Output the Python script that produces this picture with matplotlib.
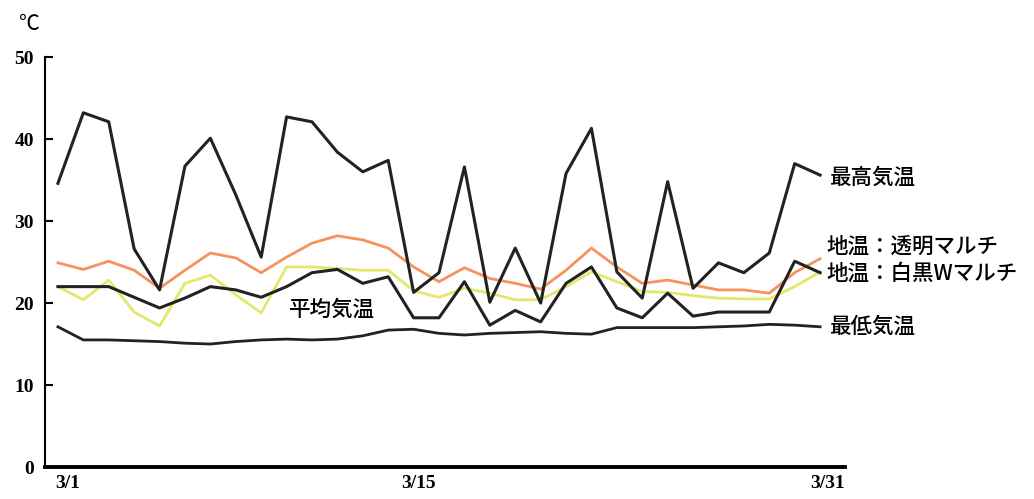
import matplotlib.pyplot as plt
import numpy as np

plt.rcParams['font.family'] = ['Liberation Serif', 'Noto Sans CJK JP', 'DejaVu Sans']

days = np.arange(1, 32)

# 最高気温
t_max = [34.6, 43.2, 42.1, 26.6, 21.6, 36.7, 40.1, 33.2, 25.6, 42.7,
         42.1, 38.4, 36.0, 37.4, 21.3, 23.7, 36.6, 20.1, 26.7, 20.0,
         35.8, 41.3, 23.8, 20.6, 34.8, 21.8, 24.9, 23.7, 26.1, 37.0, 35.6]
# 地温：透明マルチ
soil_clear = [24.9, 24.1, 25.1, 24.0, 21.8, 24.0, 26.1, 25.5, 23.7, 25.6,
              27.3, 28.2, 27.7, 26.7, 24.4, 22.6, 24.3, 23.0, 22.4, 21.7,
              24.0, 26.7, 24.4, 22.4, 22.8, 22.2, 21.6, 21.6, 21.2, 23.7, 25.4]
# 地温：白黒Wマルチ
soil_bw = [22.0, 20.4, 22.8, 18.9, 17.2, 22.4, 23.4, 21.0, 18.8, 24.4,
           24.4, 24.2, 24.0, 24.0, 21.5, 20.7, 21.8, 21.2, 20.4, 20.4,
           22.0, 23.8, 22.6, 21.4, 21.3, 20.9, 20.6, 20.5, 20.5, 22.0, 23.8]
# 平均気温
t_mean = [22.0, 22.0, 22.0, 20.7, 19.4, 20.6, 22.0, 21.6, 20.7, 22.0,
          23.7, 24.1, 22.4, 23.2, 18.2, 18.2, 22.6, 17.3, 19.1, 17.7,
          22.4, 24.4, 19.4, 18.2, 21.2, 18.4, 18.9, 18.9, 18.9, 25.1, 23.7]
# 最低気温
t_min = [17.1, 15.5, 15.5, 15.4, 15.3, 15.1, 15.0, 15.3, 15.5, 15.6,
         15.5, 15.6, 16.0, 16.7, 16.8, 16.3, 16.1, 16.3, 16.4, 16.5,
         16.3, 16.2, 17.0, 17.0, 17.0, 17.0, 17.1, 17.2, 17.4, 17.3, 17.1]

fig = plt.figure(figsize=(10.34, 4.99), dpi=100)
ax = fig.add_axes([0.0435, 0.0641, 0.7737, 0.8216])

ax.plot(days, soil_clear, color='#f7925e', lw=2)
ax.plot(days, soil_bw, color='#e4e86a', lw=2)
ax.plot(days, t_min, color='#222222', lw=2)
ax.plot(days, t_mean, color='#222222', lw=2.2)
ax.plot(days, t_max, color='#222222', lw=2.2)

ax.set_xlim(0.49, 31.98)
ax.set_ylim(0, 50)
ax.spines['top'].set_visible(False)
ax.spines['right'].set_visible(False)
ax.spines['left'].set_linewidth(1.5)
ax.spines['bottom'].set_linewidth(2.8)

ax.set_yticks([0, 10, 20, 30, 40, 50])
ax.tick_params(axis='y', direction='in', length=6, width=1.5, labelsize=14, pad=8)
ax.set_xticks([1.4, 15.2, 31.3])
ax.set_xticklabels(['3/1', '3/15', '3/31'])
ax.tick_params(axis='x', length=0, labelsize=14, pad=6)
for lab in ax.get_xticklabels() + ax.get_yticklabels():
    lab.set_fontweight('bold')

jp = ['Noto Sans CJK JP', 'DejaVu Sans']
fig.text(0.018, 0.952, '℃', fontsize=15, ha='left', va='center', family=jp)

# series labels at the right end
ax.annotate('最高気温', xy=(31.4, 35.6), xytext=(830, 499 - 178),
            textcoords='figure pixels', fontsize=15.5, va='center',
            family=jp, fontweight='medium')
ax.annotate('地温：透明マルチ', xy=(31.4, 25), xytext=(826, 499 - 247),
            textcoords='figure pixels', fontsize=15.5, va='center',
            family=jp, fontweight='medium')
ax.annotate('地温：白黒Wマルチ', xy=(31.4, 24), xytext=(826, 499 - 274),
            textcoords='figure pixels', fontsize=15.5, va='center',
            family=jp, fontweight='medium')
ax.annotate('最低気温', xy=(31.4, 17), xytext=(830, 499 - 327),
            textcoords='figure pixels', fontsize=15.5, va='center',
            family=jp, fontweight='medium')
ax.text(10.1, 19.2, '平均気温', fontsize=15.5, va='center', family=jp,
        fontweight='medium')

fig.savefig('out.png', dpi=100)
